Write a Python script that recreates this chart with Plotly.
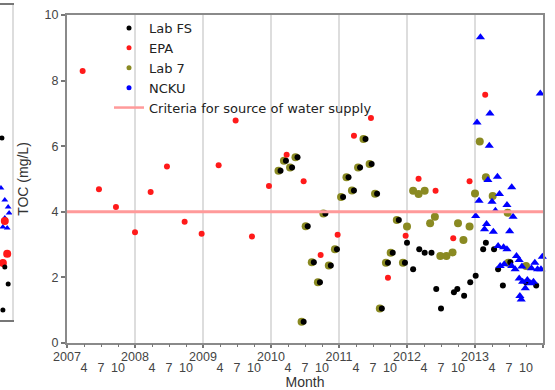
import plotly.graph_objects as go

# ---------------- data ----------------
years = [2007, 2008, 2009, 2010, 2011, 2012, 2013, 2014]
year_labels = [str(y) for y in years]
month_labels = ["4", "7", "10"]

epa_x = [2007.23, 2007.47, 2007.72, 2008.00, 2008.23, 2008.47, 2008.73, 2008.98,
         2009.23, 2009.48, 2009.72, 2009.97, 2010.23, 2010.48, 2010.73, 2010.98,
         2011.22, 2011.47, 2011.72, 2011.98, 2012.17, 2012.42, 2012.68, 2012.92, 2013.15]
epa_y = [8.29, 4.69, 4.15, 3.38, 4.60, 5.38, 3.70, 3.33,
         5.42, 6.78, 3.25, 4.79, 5.74, 4.93, 2.68, 3.30,
         6.32, 6.86, 1.99, 3.27, 5.01, 4.64, 3.19, 4.93, 7.57]

lab7_x = [2010.11, 2010.19, 2010.28, 2010.36, 2010.45, 2010.51, 2010.60, 2010.69,
          2010.77, 2010.85, 2010.94, 2011.03, 2011.11, 2011.19, 2011.28, 2011.36,
          2011.45, 2011.53, 2011.60, 2011.69, 2011.76, 2011.85, 2011.94, 2012.00,
          2012.09, 2012.17, 2012.26, 2012.34, 2012.41, 2012.49, 2012.58, 2012.67,
          2012.75, 2012.83, 2012.92, 2013.00, 2013.07, 2013.16, 2013.26, 2013.48,
          2013.49, 2013.75]
lab7_y = [5.25, 5.56, 5.35, 5.66, 0.65, 3.56, 2.46, 1.85,
          3.95, 2.36, 2.86, 4.45, 5.05, 4.65, 5.35, 6.22,
          5.46, 4.55, 1.05, 2.45, 2.75, 3.75, 2.45, 3.55,
          4.64, 4.54, 4.64, 3.65, 3.85, 2.65, 2.65, 2.76,
          3.65, 3.14, 3.55, 4.56, 6.14, 5.05, 4.48, 3.97,
          2.45, 2.35]

labfs_x = [2010.14, 2010.22, 2010.31, 2010.39, 2010.48, 2010.54, 2010.63, 2010.72,
           2010.80, 2010.88, 2010.97, 2011.06, 2011.14, 2011.22, 2011.31, 2011.39,
           2011.48, 2011.56, 2011.63, 2011.72, 2011.79, 2011.88, 2011.97,
           2012.00, 2012.09, 2012.18, 2012.26, 2012.36, 2012.43, 2012.50, 2012.69,
           2012.74, 2012.84, 2012.93, 2013.01, 2013.12, 2013.16, 2013.28, 2013.34,
           2013.41, 2013.52, 2013.75, 2013.90]
labfs_y = [5.25, 5.56, 5.35, 5.66, 0.65, 3.56, 2.46, 1.85,
           3.95, 2.36, 2.86, 4.45, 5.05, 4.65, 5.35, 6.22,
           5.46, 4.55, 1.05, 2.45, 2.75, 3.75, 2.45,
           3.06, 2.25, 2.86, 2.75, 2.75, 1.65, 1.05, 1.55,
           1.65, 1.44, 1.85, 2.05, 2.86, 3.06, 2.86, 2.25,
           1.75, 2.46, 1.85, 1.75]

ncku_x = [2013.01, 2013.03, 2013.06, 2013.08, 2013.14, 2013.17, 2013.19, 2013.21,
          2013.22, 2013.25, 2013.27, 2013.30, 2013.33, 2013.34, 2013.36, 2013.37,
          2013.42, 2013.43, 2013.47, 2013.47, 2013.51, 2013.54, 2013.54, 2013.56,
          2013.59, 2013.61, 2013.65, 2013.65, 2013.66, 2013.68, 2013.69, 2013.70,
          2013.74, 2013.77, 2013.82, 2013.83, 2013.86, 2013.88, 2013.92, 2013.96,
          2013.97, 2013.99]
ncku_y = [3.87, 6.72, 4.34, 9.32, 3.47, 3.63, 4.97, 6.01,
          7.00, 4.31, 3.39, 4.03, 5.07, 2.96, 4.54, 2.35,
          2.92, 2.40, 4.21, 2.86, 3.41, 4.75, 2.35, 3.85,
          2.25, 2.65, 2.53, 1.97, 1.43, 1.33, 2.33, 1.87,
          1.67, 1.92, 1.82, 2.28, 1.87, 2.45, 2.25, 7.61,
          2.25, 2.63]

criteria_x = [2007, 2014]
criteria_y = [4.0, 4.0]

# partial neighbouring panel visible at the left edge
left_black_x = [2013.79, 2013.85, 2013.92, 2013.81]
left_black_y = [5.78, 1.68, 1.14, 0.32]
left_red_x = [2013.85, 2013.90, 2013.81]
left_red_y = [3.14, 2.10, 1.81]
left_blue_x = [2013.77, 2013.85, 2013.92, 2013.94, 2013.85, 2013.81, 2013.90]
left_blue_y = [4.19, 3.81, 3.59, 3.40, 3.24, 2.95, 2.92]

# ---------------- figure ----------------
FONT = "Liberation Sans, Arial, sans-serif"
LEG_FONT = "DejaVu Sans, sans-serif"
W, H = 555, 390
ML, MR, MT, MB = 0, 12, 5, 47
pw, ph = W - ML - MR, H - MT - MB
plot_left, plot_top, plot_bottom = 67, 15, 343

quarters = [y + q for y in years[:-1] for q in (0.25, 0.5, 0.75)]
quarter_text = [month_labels[i % 3] for i in range(len(quarters))]

C_OLIVE, C_RED, C_BLUE, C_PINK = "#8a8a22", "#ff1a1a", "#0000ff", "#ff9a9a"

fig = go.Figure()

# data traces (legend handled by small proxy entries below)
fig.add_trace(go.Scatter(x=criteria_x, y=criteria_y, mode="lines", showlegend=False,
                         line=dict(color=C_PINK, width=3), xaxis="x2", yaxis="y"))
fig.add_trace(go.Scatter(x=lab7_x, y=lab7_y, mode="markers", name="Lab 7", showlegend=False,
                         marker=dict(color=C_OLIVE, size=8), cliponaxis=False))
fig.add_trace(go.Scatter(x=labfs_x, y=labfs_y, mode="markers", name="Lab FS", showlegend=False,
                         marker=dict(color="black", size=6), cliponaxis=False))
fig.add_trace(go.Scatter(x=epa_x, y=epa_y, mode="markers", name="EPA", showlegend=False,
                         marker=dict(color=C_RED, size=6), cliponaxis=False))
fig.add_trace(go.Scatter(x=ncku_x, y=ncku_y, mode="markers", name="NCKU", showlegend=False,
                         marker=dict(color=C_BLUE, size=8, symbol="triangle-up"), cliponaxis=False))

# legend entries (empty traces, small symbols like the reference legend)
legend_items = [("Lab FS", "black"), ("EPA", C_RED), ("Lab 7", C_OLIVE), ("NCKU", C_BLUE)]
for nm, col in legend_items:
    fig.add_trace(go.Scatter(x=[None], y=[None], mode="markers", name=nm,
                             marker=dict(color=col, size=5)))
fig.add_trace(go.Scatter(x=[None], y=[None], mode="lines", name="Criteria for source of water supply",
                         line=dict(color=C_PINK, width=2.5)))

# left partial panel
fig.add_trace(go.Scatter(x=left_blue_x, y=left_blue_y, mode="markers", showlegend=False,
                         marker=dict(color=C_BLUE, size=6, symbol="triangle-up"), xaxis="x3", yaxis="y3"))
fig.add_trace(go.Scatter(x=left_red_x, y=left_red_y, mode="markers", showlegend=False,
                         marker=dict(color=C_RED, size=8), xaxis="x3", yaxis="y3"))
fig.add_trace(go.Scatter(x=left_black_x, y=left_black_y, mode="markers", showlegend=False,
                         marker=dict(color="black", size=5), xaxis="x3", yaxis="y3"))

dom_x = [plot_left / pw, 1]
dom_y = [0, (plot_bottom - plot_top) / ph]
tickfont = dict(family=FONT, size=12.5, color="#444")

fig.update_layout(
    width=W, height=H,
    margin=dict(l=ML, r=MR, t=MT, b=MB),
    paper_bgcolor="white", plot_bgcolor="white",
    font=dict(family=FONT, color="#333"),
    showlegend=True,
    legend=dict(x=(109 - ML) / pw, y=(plot_bottom - 13) / ph, xanchor="left", yanchor="top",
                bgcolor="rgba(0,0,0,0)", font=dict(family=LEG_FONT, size=13, color="#222"),
                tracegroupgap=0),
    xaxis=dict(domain=dom_x, range=[2007, 2014], tickmode="array", tickvals=years, ticktext=year_labels,
               ticks="outside", ticklen=3, tickcolor="#777", tickwidth=1.5,
               showgrid=True, gridcolor="#dddddd", gridwidth=2,
               showline=True, linecolor="#8a8a8a", linewidth=2, mirror=True, zeroline=False,
               tickfont=tickfont, ticklabelstandoff=-2,
               title=dict(text="Month", font=dict(family=FONT, size=14, color="#333"), standoff=21),
               automargin=False),
    xaxis2=dict(overlaying="x", anchor="y", side="bottom", range=[2007, 2014],
                tickmode="array", tickvals=quarters, ticktext=quarter_text,
                ticks="outside", ticklen=3, tickcolor="#777",
                showgrid=False, showline=False, zeroline=False,
                tickfont=tickfont, ticklabelstandoff=10, automargin=False),
    yaxis=dict(domain=dom_y, range=[0, 10], tickmode="array", tickvals=[0, 2, 4, 6, 8, 10],
               ticks="outside", ticklen=4, tickcolor="#777", tickwidth=1.5,
               showgrid=False, showline=True, linecolor="#8a8a8a", linewidth=2, mirror=True,
               zeroline=False, tickfont=tickfont,
               title=dict(text="TOC (mg/L)", font=dict(family=FONT, size=14, color="#333"), standoff=13),
               automargin=False),
    xaxis3=dict(domain=[0, 12 / pw], range=[2013.75, 2014.0], anchor="y3",
                showgrid=False, zeroline=False, showticklabels=False, ticks="",
                showline=True, linecolor="#777", linewidth=2, mirror=True),
    yaxis3=dict(domain=[(plot_bottom - 320) / ph, 1], range=[0, 10], anchor="x3", side="right",
                showgrid=False, zeroline=False, showticklabels=False, ticks="",
                showline=True, linecolor="#dddddd", linewidth=2),
)

fig.write_html("out.html")
